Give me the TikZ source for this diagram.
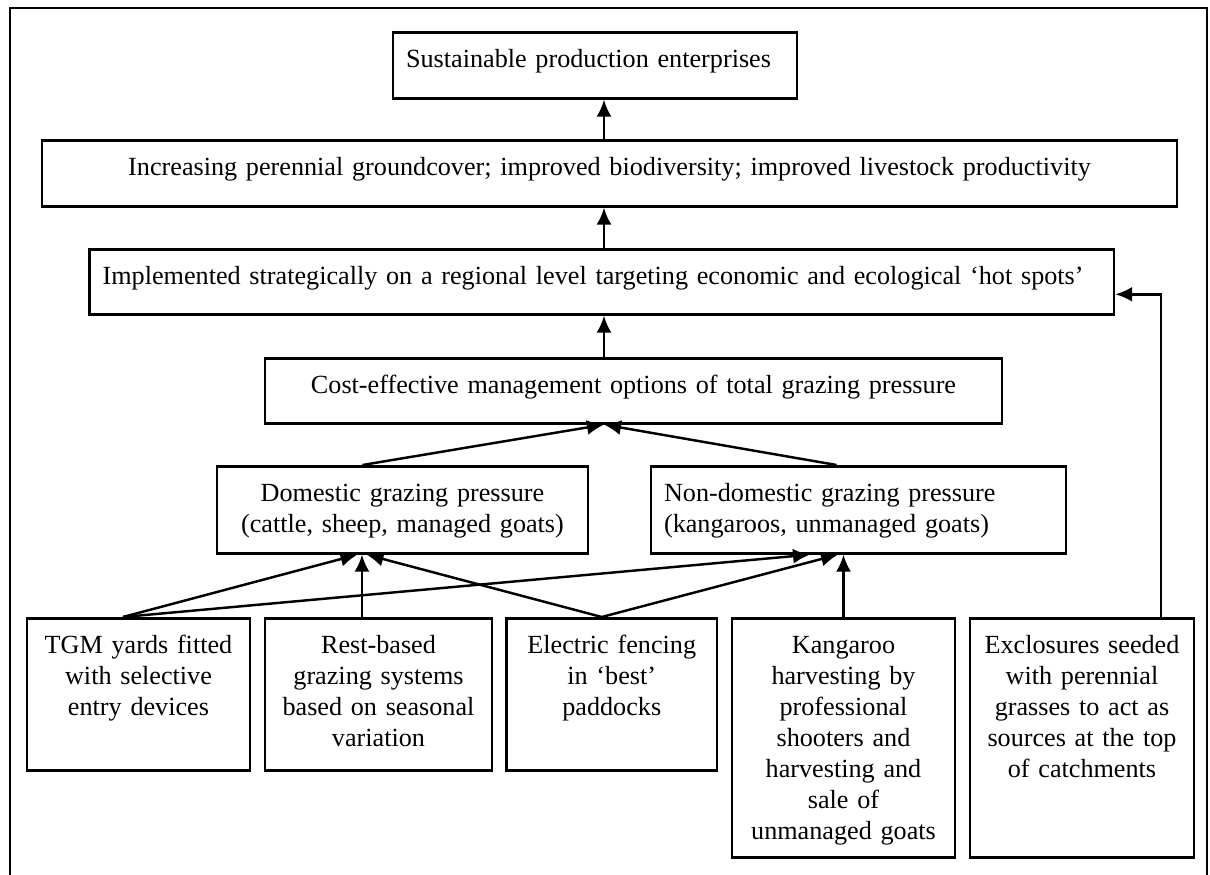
\documentclass[tikz,border=0pt]{standalone}
\usepackage{fontspec}
\setmainfont{Liberation Serif}
\usetikzlibrary{arrows.meta,calc}

\tikzset{
  box/.style={draw, line width=1.5pt, anchor=north, inner xsep=0.2cm, inner ysep=0pt,
    text height=0.71cm, align=center, font=\fontsize{14.9}{17.6}\selectfont},
  leftbox/.style={box, inner xsep=0.26cm, align=left},
  arr/.style={line width=1.4pt, -{Latex[length=0.34cm,width=0.3cm]}},
  frame/.style={line width=1.2pt}
}

\begin{document}
\begin{tikzpicture}[x=0.02cm,y=-0.02cm]
    \useasboundingbox (0,0) rectangle (1210,875);
    % outer frame:
    \draw[frame] (10,875) |- (1207,8) -- (1207,875);
    \coordinate (spine) at (604,0);
    % outcomes:
    \node[leftbox, text width=7.56cm, text depth=0.61cm] (sus) at (595,31) {Sustainable production enterprises};
    \node[box, text width=22.3cm, text depth=0.61cm] (inc) at (609.5,139) {Increasing perennial groundcover; improved biodiversity; improved livestock productivity};
    \node[leftbox, text width=19.97cm, text depth=0.59cm] (impl) at (601.75,248) {Implemented strategically on a regional level targeting economic and ecological ‘hot spots’};
    \node[box, text width=14.34cm, text depth=0.59cm] (cost) at (633.5,357) {Cost-effective management options of total grazing pressure};
    % grazing pressure:
    \node[box, text width=7.02cm, text depth=1.03cm] (dom) at (402.5,465) {Domestic grazing pressure\\(cattle, sheep, managed goats)};
    \node[leftbox, text width=7.78cm, text depth=1.03cm] (nondom) at (858.5,465) {Non-domestic grazing pressure\\(kangaroos, unmanaged goats)};
    % options:
    \node[box, text width=4.06cm, text depth=2.33cm] (tgm) at (138.5,617) {TGM yards fitted\\with selective\\entry devices};
    \node[box, text width=4.14cm, text depth=2.33cm] (rest) at (378.5,617) {Rest-based\\grazing systems\\based on seasonal\\variation};
    \node[box, text width=3.81cm, text depth=2.33cm] (elec) at (611.75,617) {Electric fencing\\in ‘best’\\paddocks};
    \node[box, text width=4.06cm, text depth=4.07cm] (kang) at (843.5,617) {Kangaroo\\harvesting by\\professional\\shooters and\\harvesting and\\sale of\\unmanaged goats};
    \node[box, text width=4.08cm, text depth=4.07cm] (excl) at (1082,617) {Exclosures seeded\\with perennial\\grasses to act as\\sources at the top\\of catchments};

    % up the middle:
    \draw[arr] (inc.north -| spine) -- (sus.south -| spine);
    \draw[arr] (impl.north -| spine) -- (inc.south -| spine);
    \draw[arr] (cost.north -| spine) -- (impl.south -| spine);
    \draw[arr] ($(dom.north)+(-40,0)$) -- (cost.south -| spine);
    \draw[arr] ($(nondom.north)+(-22,0)$) -- (cost.south -| spine);
    % options to pressure:
    \draw[arr] ($(tgm.north)+(-15.5,0)$) -- ($(dom.south)+(-45,0)$);
    \draw[arr] ($(rest.north)+(-16.5,0)$) -- ($(dom.south)+(-40.5,0)$);
    \draw[arr] ($(elec.north)+(-10,0)$) -- ($(dom.south)+(-36,0)$);
    \draw[arr] ($(tgm.north)+(-15.5,0)$) -- ($(nondom.south)+(-48.5,0)$);
    \draw[arr] ($(elec.north)+(-10,0)$) -- ($(nondom.south)+(-20.5,0)$);
    \draw[arr] (kang.north) -- (kang.north |- nondom.south);
    % exclosures:
    \draw[arr] ($(excl.north)+(79,0)$) |- ($(impl.east)+(0,12.5)$);
\end{tikzpicture}
\end{document}
